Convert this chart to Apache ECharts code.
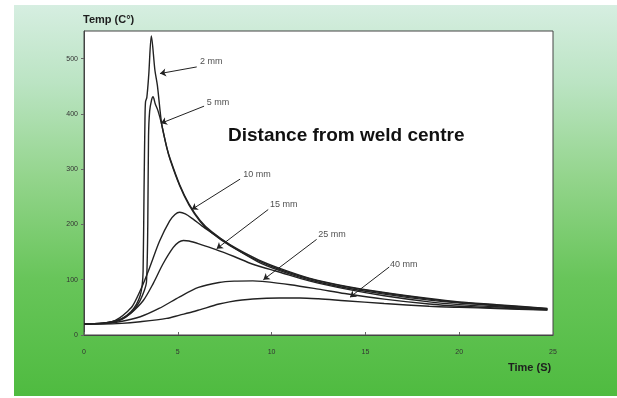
<!DOCTYPE html>
<html><head><meta charset="utf-8">
<script src="https://cdn.jsdelivr.net/npm/echarts@6/dist/echarts.min.js"></script>
<style>html,body{margin:0;padding:0;background:#fff}#c{width:617px;height:398px}</style>
</head><body><div id="c"></div>
<script>
// ---- data (time s, temperature °C) ----
const xTicks = [0, 5, 10, 15, 20, 25];
const yTicks = [0, 100, 200, 300, 400, 500];
const seriesNames = ['2 mm', '5 mm', '10 mm', '15 mm', '25 mm', '40 mm'];

const curve2mm = [[0,20],[0.5,20.5],[1,21.5],[1.5,24],[2,29],[2.5,42],[2.8,56],[3.0,72],[3.1,90],[3.15,115],[3.2,260],[3.25,390],[3.28,422],[3.35,430],[3.45,470],[3.59,541],[3.78,479],[3.91,452],[4.14,382],[4.41,340],[4.6,318],[5.1,272],[5.6,237],[6.2,207],[6.8,187],[7.8,163],[9.3,136],[10.4,121],[12,103],[14,88],[16,77],[18.4,66],[20,60],[22,55],[24.7,48]];
const curve5mm = [[0,20],[0.5,20.5],[1,21.5],[1.5,24],[2,29],[2.5,40],[2.8,52],[3.0,63],[3.2,79],[3.33,96],[3.4,200],[3.44,360],[3.5,405],[3.6,425],[3.68,431],[3.8,418],[3.95,405],[4.14,381],[4.41,339],[4.6,316],[5.1,270],[5.6,235],[6.2,205],[6.8,185],[7.8,161],[9.3,134],[10.4,119],[12,102],[14,87],[16,76],[18.4,65],[20,59],[22,54],[24.7,47.5]];
const curve10mm = [[0,20],[0.5,20.5],[1,21.5],[1.5,24],[1.9,31],[2.3,42],[2.6,53],[3.06,85],[3.5,122],[4.03,170],[4.56,206],[4.85,218],[5.1,222],[5.4,219],[5.8,210],[6.3,197],[6.86,184],[7.8,162],[9.3,132],[10.4,117],[12,100],[14,85],[16,74],[18.4,63],[20,58],[22,53],[24.7,47]];
const curve15mm = [[0,20],[0.5,20.3],[1,21],[1.5,23],[2,28],[2.45,38],[3.15,62],[3.7,94],[4.2,128],[4.75,158],[5.05,168],[5.3,171],[5.6,170],[6.2,164],[7.0,155],[8,142],[9,128],[10.4,114],[12,98],[14,83],[16,71],[18.4,60],[20,55],[22,51],[24.7,46]];
const curve25mm = [[0,20],[1,20.5],[1.9,24],[3,33],[4,48],[5.1,69],[6.1,86],[7.2,95],[8,97.5],[9,98],[9.5,97],[11,91],[12.5,83],[13.9,75],[16,65],[18.4,56],[20,52],[22,49],[24.7,45.5]];
const curve40mm = [[0,20],[1,20],[2,21],[3,24],[4.4,30],[5.1,36],[5.8,42],[6.2,46],[7.2,56],[7.75,60],[9,65],[10.4,67],[11.5,67],[12.5,65.5],[13.9,62],[16,57],[18.4,52],[20,50],[22,48],[24.7,45]];

// annotation labels and arrows (data coordinates)
const labelAt = [[6.18,494],[6.54,420],[8.49,290],[9.91,236],[12.49,182],[16.31,127]];
const arrowFrom = [[6.01,485],[6.40,414],[8.32,282],[9.82,227],[12.40,173],[16.27,123]];
const arrowTo = [[4.05,473],[4.10,383],[5.74,227],[7.07,156],[9.56,100],[14.18,68.5]];

const curves = [curve2mm, curve5mm, curve10mm, curve15mm, curve25mm, curve40mm];

const chart = echarts.init(document.getElementById('c'), null, {renderer: 'canvas'});
const lineSeries = curves.map((d, i) => ({
  name: seriesNames[i], type: 'line', data: d, showSymbol: false,
  smooth: 0.3, silent: true,
  lineStyle: {color: '#222', width: 1.4}
}));

chart.setOption({
  animation: false,
  backgroundColor: '#ffffff',
  graphic: [
    {type: 'rect', z: -100, shape: {x: 14, y: 5, width: 603, height: 391},
     style: {fill: {type: 'linear', x: 0, y: 0, x2: 0, y2: 1, colorStops: [
       {offset: 0, color: '#d6eee1'}, {offset: 0.2, color: '#bbe4c3'},
       {offset: 0.45, color: '#92d48a'}, {offset: 0.7, color: '#68c55a'},
       {offset: 1, color: '#4fbb40'}]}}},
    {type: 'text', left: 83, top: 14, style: {text: 'Temp (C°)', fontFamily: 'Liberation Sans, Arial', fontWeight: 'bold', fontSize: 11, fill: '#1e1e1e'}},
    {type: 'text', left: 508, top: 362, style: {text: 'Time (S)', fontFamily: 'Liberation Sans, Arial', fontWeight: 'bold', fontSize: 11, fill: '#1e1e1e'}},
    {type: 'text', left: 228, top: 126, style: {text: 'Distance from weld centre', fontFamily: 'Liberation Sans, Arial', fontWeight: 'bold', fontSize: 19, fill: '#111'}}
  ],
  grid: {left: 84, right: 64, top: 31, bottom: 63, show: true, backgroundColor: '#ffffff', borderColor: '#444', borderWidth: 1},
  xAxis: {
    type: 'value', min: 0, max: 25, interval: 5,
    axisLine: {show: true, lineStyle: {color: '#444', width: 1}},
    axisTick: {show: true, inside: true, length: 3, lineStyle: {color: '#666'}},
    axisLabel: {fontSize: 7, color: '#333', margin: 14, fontFamily: 'Liberation Sans, Arial', customValues: xTicks},
    splitLine: {show: false}
  },
  yAxis: {
    type: 'value', min: 0, max: 550, interval: 100,
    axisLine: {show: true, lineStyle: {color: '#444', width: 1}},
    axisTick: {show: true, inside: false, length: 3, lineStyle: {color: '#666'}, customValues: yTicks},
    axisLabel: {fontSize: 7, color: '#333', margin: 6, fontFamily: 'Liberation Sans, Arial', customValues: yTicks},
    splitLine: {show: false}
  },
  series: lineSeries.concat([
    {type: 'lines', coordinateSystem: 'cartesian2d', silent: true, z: 5,
     data: arrowFrom.map((s, i) => ({coords: [s, arrowTo[i]]})),
     symbol: ['none', 'arrow'], symbolSize: [0, 6],
     lineStyle: {color: '#222', width: 1, opacity: 1, curveness: 0}},
    {type: 'scatter', silent: true, symbolSize: 0, data: labelAt, z: 6,
     label: {show: true, position: 'right', distance: 0,
       formatter: p => seriesNames[p.dataIndex],
       fontSize: 9, color: '#222', fontFamily: 'Liberation Sans, Arial'}}
  ])
});
</script></body></html>
